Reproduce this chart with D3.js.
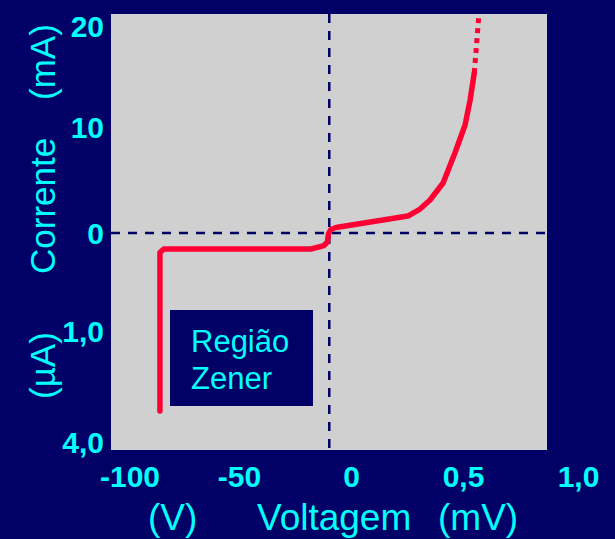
<!DOCTYPE html>
<html><head><meta charset="utf-8">
<script src="https://cdn.jsdelivr.net/npm/d3@7"></script>
<style>html,body{margin:0;padding:0;background:#000066;} svg{display:block}</style>
</head><body><svg id="c" width="615" height="539"></svg>
<script>
// ---- data ----
const xTickValues = [-100, -50, 0, 0.5, 1.0];
const xTickLabels = ["-100", "-50", "0", "0,5", "1,0"];
const yTickValues = [20, 10, 0, -1, -4];
const yTickLabels = ["20", "10", "0", "1,0", "4,0"];
// curve (V / mV mixed axis as in the schematic), current (mA above 0, µA below)
const curveX = [-86.1, -86.1, -84.3, -17.9, -12.1, -10.5, -10.1, -9.0, -6.7, 0.254, 0.308, 0.353, 0.411, 0.464, 0.509, 0.531, 0.549];
const curveY = [-3.16, -0.20, -0.163, -0.163, -0.128, -0.092, -0.01, 0.33, 0.52, 1.60, 2.26, 3.11, 4.72, 7.55, 10.2, 12.66, 15.32];
const tailX = [0.549, 0.569];
const tailY = [15.32, 21.0];
const refX = -9.7;   // vertical dashed guide
const refY = 0;      // horizontal dashed guide
const zenerLabel = ["Região", "Zener"];
const xTitle = ["(V)", "Voltagem", "(mV)"];
const yTitleTop = ["Corrente", "(mA)"];
const yTitleBottom = "(µA)";

// ---- layout ----
const svg = d3.select("#c");
const plot = {x: 111, y: 14, w: 436, h: 436};
const navy = "#000066", cyan = "#00ffff", red = "#ff0033", gray = "#d0d0d0";

const x = d3.scaleLinear().domain(xTickValues).range([129.5, 239, 351, 463, 578]);
const y = d3.scaleLinear().domain(yTickValues).range([25.5, 127, 233, 331, 442]);

svg.append("rect").attr("width", 615).attr("height", 539).attr("fill", navy);
svg.append("rect").attr("x", plot.x).attr("y", plot.y).attr("width", plot.w).attr("height", plot.h).attr("fill", gray);

// dashed guides
svg.append("line").attr("x1", plot.x).attr("x2", plot.x + plot.w).attr("y1", y(refY)).attr("y2", y(refY))
  .attr("stroke", navy).attr("stroke-width", 2.5).attr("stroke-dasharray", "9,8");
svg.append("line").attr("x1", x(refX)).attr("x2", x(refX)).attr("y1", plot.y).attr("y2", plot.y + plot.h)
  .attr("stroke", navy).attr("stroke-width", 2.5).attr("stroke-dasharray", "9,8");

// Zener box
const g = svg.append("g");
g.append("rect").attr("x", 170).attr("y", 310).attr("width", 143).attr("height", 96).attr("fill", navy);
g.selectAll("text.z").data(zenerLabel).join("text").attr("class", "z")
  .attr("x", 191).attr("y", (d, i) => 352 + i * 37)
  .attr("fill", cyan).attr("font-family", "Liberation Sans, Arial, sans-serif").attr("font-size", 31)
  .text(d => d);

// curve
const line = d3.line().x(d => x(d[0])).y(d => y(d[1]));
const pts = curveX.map((v, i) => [v, curveY[i]]);
svg.append("path").attr("d", line(pts)).attr("fill", "none").attr("stroke", red)
  .attr("stroke-width", 5.5).attr("stroke-linejoin", "round").attr("stroke-linecap", "round");
const tail = tailX.map((v, i) => [v, tailY[i]]);
svg.append("path").attr("d", line(tail)).attr("fill", "none").attr("stroke", red)
  .attr("stroke-width", 5).attr("stroke-dasharray", "5,5");

// axes (labels only)
const fontB = "Liberation Sans, Arial, sans-serif";
const xAxis = d3.axisBottom(x).tickValues(xTickValues).tickSize(0).tickPadding(0)
  .tickFormat((d, i) => xTickLabels[i]);
const xa = svg.append("g").call(xAxis);
xa.select(".domain").remove();
xa.selectAll("text").attr("y", 487).attr("dy", null).attr("fill", cyan)
  .attr("font-family", fontB).attr("font-weight", "bold").attr("font-size", 30);

const yAxis = d3.axisLeft(y).tickValues(yTickValues).tickSize(0).tickPadding(0)
  .tickFormat((d, i) => yTickLabels[i]);
const ya = svg.append("g").attr("transform", "translate(104,0)").call(yAxis);
ya.select(".domain").remove();
ya.selectAll("text").attr("x", 0).attr("dy", "0.36em").attr("fill", cyan)
  .attr("font-family", fontB).attr("font-weight", "bold").attr("font-size", 30);

// axis titles
const tfont = (sel, size) => sel.attr("fill", cyan).attr("font-family", fontB).attr("font-size", size);
tfont(svg.append("text").attr("x", 148).attr("y", 530).text(xTitle[0]), 37);
tfont(svg.append("text").attr("x", 257).attr("y", 530).text(xTitle[1]), 37);
tfont(svg.append("text").attr("x", 438).attr("y", 530).text(xTitle[2]), 37);

tfont(svg.append("text").attr("transform", "translate(55,274) rotate(-90)").text(yTitleTop[0]), 35);
tfont(svg.append("text").attr("transform", "translate(55,100) rotate(-90)").text(yTitleTop[1]), 35);
tfont(svg.append("text").attr("transform", "translate(55,399) rotate(-90)").text(yTitleBottom), 35);
</script></body></html>
